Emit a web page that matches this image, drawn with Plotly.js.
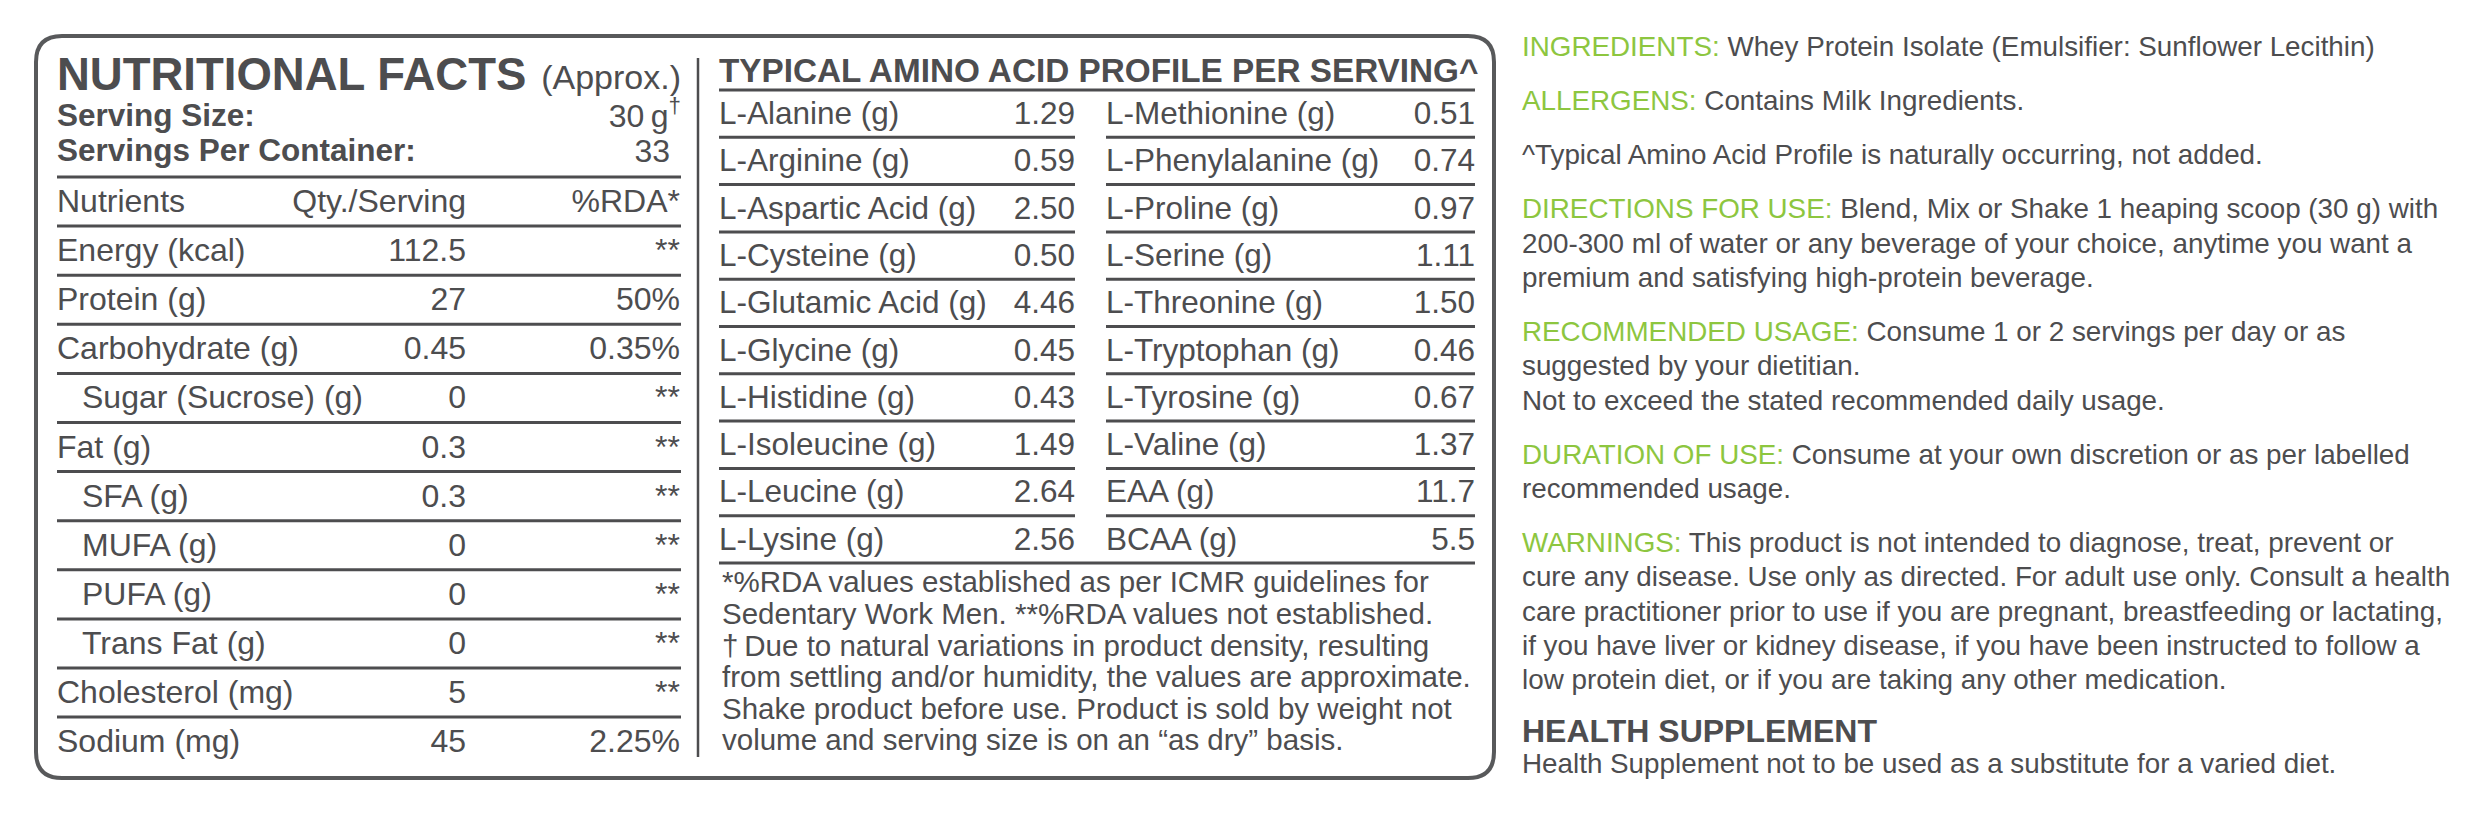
<!DOCTYPE html>
<html>
<head>
<meta charset="utf-8">
<script src="https://cdn.plot.ly/plotly-3.0.1.min.js"></script>
<style>
html,body{margin:0;padding:0;background:#ffffff;}
#chart{width:2482px;height:815px;}
</style>
</head>
<body>
<div id="chart"></div>
<script>
// ---------------- DATA ----------------
const factsTitle = 'NUTRITIONAL FACTS';
const factsTitleNote = '(Approx.)';
const servingLabels = ['Serving Size:', 'Servings Per Container:'];
const servingValues = ['30\u2009g<sup>†</sup>', '33'];
const nutrientHeaders = ['Nutrients', 'Qty./Serving', '%RDA*'];
const nutrients = ['Energy (kcal)', 'Protein (g)', 'Carbohydrate (g)', 'Sugar (Sucrose) (g)', 'Fat (g)',
  'SFA (g)', 'MUFA (g)', 'PUFA (g)', 'Trans Fat (g)', 'Cholesterol (mg)', 'Sodium (mg)'];
const nutrientQty = ['112.5', '27', '0.45', '0', '0.3', '0.3', '0', '0', '0', '5', '45'];
const nutrientRDA = ['**', '50%', '0.35%', '**', '**', '**', '**', '**', '**', '**', '2.25%'];
const nutrientIsSub = [0, 0, 0, 1, 0, 1, 1, 1, 1, 0, 0];

const aminoTitle = 'TYPICAL AMINO ACID PROFILE PER SERVING^';
const aminoLeftNames = ['L-Alanine (g)', 'L-Arginine (g)', 'L-Aspartic Acid (g)', 'L-Cysteine (g)', 'L-Glutamic Acid (g)',
  'L-Glycine (g)', 'L-Histidine (g)', 'L-Isoleucine (g)', 'L-Leucine (g)', 'L-Lysine (g)'];
const aminoLeftValues = ['1.29', '0.59', '2.50', '0.50', '4.46', '0.45', '0.43', '1.49', '2.64', '2.56'];
const aminoRightNames = ['L-Methionine (g)', 'L-Phenylalanine (g)', 'L-Proline (g)', 'L-Serine (g)', 'L-Threonine (g)',
  'L-Tryptophan (g)', 'L-Tyrosine (g)', 'L-Valine (g)', 'EAA (g)', 'BCAA (g)'];
const aminoRightValues = ['0.51', '0.74', '0.97', '1.11', '1.50', '0.46', '0.67', '1.37', '11.7', '5.5'];

const footnoteLines = [
  '*%RDA values established as per ICMR guidelines for',
  'Sedentary Work Men. **%RDA values not established.',
  '†\u2009Due to natural variations in product density, resulting',
  'from settling and/or humidity, the values are approximate.',
  'Shake product before use. Product is sold by weight not',
  'volume and serving size is on an \u201Cas dry\u201D basis.'
];

const infoLabels = ['INGREDIENTS:', 'ALLERGENS:', '', 'DIRECTIONS FOR USE:', 'RECOMMENDED USAGE:', 'DURATION OF USE:', 'WARNINGS:'];
const infoLines = [
  ['Whey Protein Isolate (Emulsifier: Sunflower Lecithin)'],
  ['Contains Milk Ingredients.'],
  ['^Typical Amino Acid Profile is naturally occurring, not added.'],
  ['Blend, Mix or Shake 1 heaping scoop (30 g) with',
   '200-300 ml of water or any beverage of your choice, anytime you want a',
   'premium and satisfying high-protein beverage.'],
  ['Consume 1 or 2 servings per day or as',
   'suggested by your dietitian.',
   'Not to exceed the stated recommended daily usage.'],
  ['Consume at your own discretion or as per labelled',
   'recommended usage.'],
  ['This product is not intended to diagnose, treat, prevent or',
   'cure any disease. Use only as directed. For adult use only. Consult a health',
   'care practitioner prior to use if you are pregnant, breastfeeding or lactating,',
   'if you have liver or kidney disease, if you have been instructed to follow a',
   'low protein diet, or if you are taking any other medication.']
];
const supplementTitle = 'HEALTH SUPPLEMENT';
const supplementText = 'Health Supplement not to be used as a substitute for a varied diet.';

// ---------------- STYLE / LAYOUT ----------------
const W = 2482, H = 815;
const FONT = '"Liberation Sans", Arial, Helvetica, sans-serif';
const INK = '#4d4d4f';
const BORDER = '#58595b';
const GREEN = '#8dc63f';
const DY = 2.5; // vertical correction so that text cap-centres sit on the target rows

const traces = [];
function txt(xs, ys, texts, pos, size, bold, color) {
  traces.push({
    type: 'scatter', mode: 'text', x: xs, y: ys.map(v => v + DY), text: texts,
    textposition: pos, cliponaxis: false, hoverinfo: 'skip', showlegend: false,
    textfont: {family: FONT, size: size, color: color || INK, weight: bold ? 'bold' : 'normal'}
  });
}
const shapes = [];
function hline(x0, x1, y, w) {
  shapes.push({type: 'line', xref: 'x', yref: 'y', x0: x0, x1: x1, y0: y, y1: y,
    line: {color: INK, width: w || 3}});
}

// Outer rounded box
(function () {
  const x0 = 36, y0 = 36, x1 = 1494, y1 = 778, r = 26;
  const p = `M ${x0 + r},${y0} L ${x1 - r},${y0} Q ${x1},${y0} ${x1},${y0 + r} L ${x1},${y1 - r} Q ${x1},${y1} ${x1 - r},${y1} ` +
    `L ${x0 + r},${y1} Q ${x0},${y1} ${x0},${y1 - r} L ${x0},${y0 + r} Q ${x0},${y0} ${x0 + r},${y0} Z`;
  shapes.push({type: 'path', xref: 'x', yref: 'y', path: p, line: {color: BORDER, width: 4}});
})();
// Divider
shapes.push({type: 'line', xref: 'x', yref: 'y', x0: 698, x1: 698, y0: 58, y1: 757, line: {color: INK, width: 2.5}});

// ---- Left table ----
const LX = 57, QX = 466, RX = 680, RXV = 681;
const NFS = 32;
txt([LX], [76], [factsTitle], 'middle right', 45.5, true);
txt([RXV], [78], [factsTitleNote], 'middle left', 34, false);
txt(servingLabels.map(() => LX), [116, 151], servingLabels, 'middle right', 31.5, true);
txt([RXV, 670], [116, 151], servingValues, 'middle left', NFS, false);

const lineY0 = 177, pitch = 49.1;
for (let k = 0; k < nutrients.length + 1; k++) hline(LX, RXV, lineY0 + pitch * k, 3);
const headY = lineY0 + pitch / 2;
txt([LX], [headY], [nutrientHeaders[0]], 'middle right', NFS);
txt([QX], [headY], [nutrientHeaders[1]], 'middle left', NFS);
txt([RX], [headY], [nutrientHeaders[2]], 'middle left', NFS);
const rowY = nutrients.map((_, i) => lineY0 + pitch * (i + 1) + pitch / 2);
txt(nutrients.map((_, i) => LX + nutrientIsSub[i] * 25), rowY, nutrients, 'middle right', NFS);
txt(nutrients.map(() => QX), rowY, nutrientQty, 'middle left', NFS);
txt(nutrients.map(() => RX), rowY, nutrientRDA, 'middle left', NFS);

// ---- Amino table ----
const AX = 719, AVX = 1075, BX = 1106, BVX = 1475;
const AFS = 31.5;
txt([AX], [71], [aminoTitle], 'middle right', 33.3, true);
const aLine0 = 90, aPitch = 47.3;
for (let k = 0; k <= aminoLeftNames.length; k++) {
  const y = aLine0 + aPitch * k;
  if (k === 0 || k === aminoLeftNames.length) hline(AX, BVX, y, 3);
  else { hline(AX, AVX, y, 3); hline(BX, BVX, y, 3); }
}
const aY = aminoLeftNames.map((_, i) => aLine0 + aPitch * (i + 0.5));
txt(aY.map(() => AX), aY, aminoLeftNames, 'middle right', AFS);
txt(aY.map(() => AVX), aY, aminoLeftValues, 'middle left', AFS);
txt(aY.map(() => BX), aY, aminoRightNames, 'middle right', AFS);
txt(aY.map(() => BVX), aY, aminoRightValues, 'middle left', AFS);

const fY = footnoteLines.map((_, i) => 582.5 + 31.6 * i);
txt(fY.map(() => 722), fY, footnoteLines, 'middle right', 29.5);

// ---- Right column ----
const IX = 1522, IFS = 27.8, iPitch = 34.3, iGap = 54;
const infoX = [], infoY = [], infoT = [];
let y = 47;
infoLines.forEach((lines, p) => {
  lines.forEach((ln, j) => {
    let t = ln;
    if (j === 0 && infoLabels[p]) t = `<span style="color:${GREEN}">${infoLabels[p]}</span> ` + ln;
    infoX.push(IX); infoY.push(y + iPitch * j); infoT.push(t);
  });
  y = y + iPitch * (lines.length - 1) + iGap;
});
txt(infoX, infoY, infoT, 'middle right', IFS);
txt([IX], [731], [supplementTitle], 'middle right', 32, true);
txt([IX], [764], [supplementText], 'middle right', IFS);

const layout = {
  width: W, height: H,
  margin: {l: 0, r: 0, t: 0, b: 0, pad: 0},
  paper_bgcolor: '#ffffff', plot_bgcolor: '#ffffff',
  xaxis: {range: [0, W], visible: false, fixedrange: true},
  yaxis: {range: [H, 0], visible: false, fixedrange: true},
  shapes: shapes,
  showlegend: false
};
Plotly.newPlot('chart', traces, layout, {staticPlot: true, displayModeBar: false});
</script>
</body>
</html>
